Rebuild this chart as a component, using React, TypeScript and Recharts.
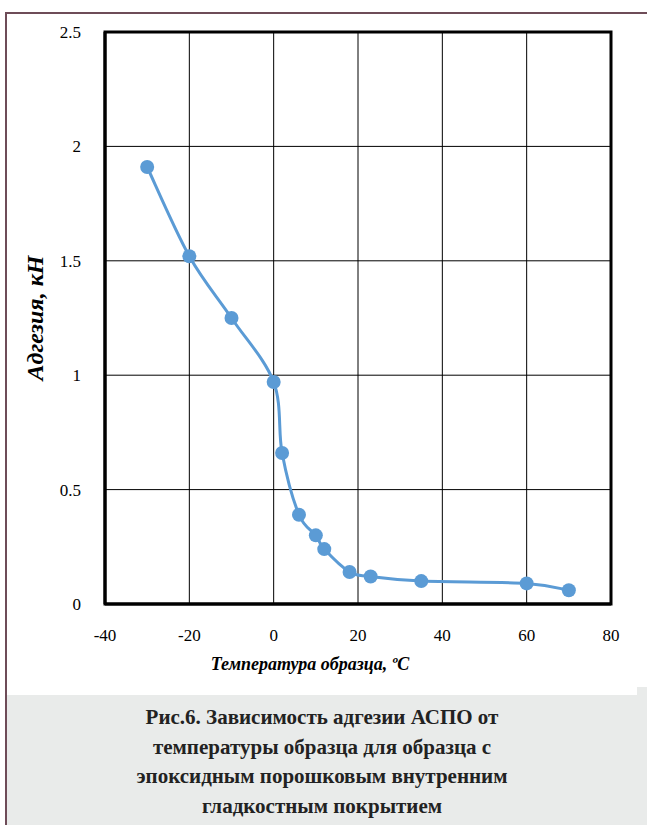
import React from 'react';
import { LineChart, Line, XAxis, YAxis, CartesianGrid, ReferenceArea } from 'recharts';

const temperatures = [-30, -20, -10, 0, 2, 6, 10, 12, 18, 23, 35, 60, 70];
const adhesion = [1.91, 1.52, 1.25, 0.97, 0.66, 0.39, 0.3, 0.24, 0.14, 0.12, 0.1, 0.09, 0.06];
const xTicks = [-40, -20, 0, 20, 40, 60, 80];
const yTicks = [0, 0.5, 1, 1.5, 2, 2.5];
const xTitle = 'Температура образца, ºС';
const yTitle = 'Адгезия, кН';
const captionLines = [
  'Рис.6. Зависимость адгезии АСПО от',
  'температуры образца для образца с',
  'эпоксидным порошковым внутренним',
  'гладкостным покрытием',
];

const data = temperatures.map((t, i) => ({ t, a: adhesion[i] }));

const SERIF =
  "'Liberation Serif', 'Times New Roman', Times, Tinos, 'Noto Serif', 'DejaVu Serif', FreeSerif, 'Nimbus Roman', serif";

// Catmull-Rom style smoothing (similar to Excel's smoothed line)
function smoothCurve(context: any) {
  let pts: [number, number][] = [];
  return {
    areaStart() {},
    areaEnd() {},
    lineStart() {
      pts = [];
    },
    point(x: number, y: number) {
      pts.push([+x, +y]);
    },
    lineEnd() {
      const n = pts.length;
      if (!n) return;
      context.moveTo(pts[0][0], pts[0][1]);
      for (let i = 0; i < n - 1; i++) {
        const p0 = pts[i - 1] || pts[i];
        const p1 = pts[i];
        const p2 = pts[i + 1];
        const p3 = pts[i + 2] || p2;
        const c1x = p1[0] + (p2[0] - p0[0]) / 6;
        const c1y = p1[1] + (p2[1] - p0[1]) / 6;
        const c2x = p2[0] - (p3[0] - p1[0]) / 6;
        const c2y = p2[1] - (p3[1] - p1[1]) / 6;
        context.bezierCurveTo(c1x, c1y, c2x, c2y, p2[0], p2[1]);
      }
    },
  };
}

const tickStyle = { fontFamily: SERIF, fontSize: 17, fill: '#000' };

export default function App() {
  return (
    <div style={{ position: 'absolute', left: 0, top: 0, width: 647, height: 825, background: '#fff', overflow: 'hidden', fontFamily: SERIF }}>
      <div style={{ position: 'absolute', left: 5, top: 12, width: 642, height: 2, background: '#6e4c58' }} />
      <div style={{ position: 'absolute', left: 5, top: 12, width: 2, height: 813, background: '#6e4c58' }} />
      <div style={{ position: 'absolute', left: 0, top: 0 }}>
        <LineChart width={647} height={695} data={data} margin={{ top: 32, right: 36, bottom: 31, left: 45 }}>
          <CartesianGrid stroke="#000" strokeWidth={1} />
          <XAxis
            dataKey="t"
            type="number"
            domain={[-40, 80]}
            ticks={xTicks}
            height={60}
            tickLine={false}
            tickSize={0}
            tickMargin={25}
            axisLine={{ stroke: '#000', strokeWidth: 3 }}
            tick={tickStyle}
            interval={0}
          />
          <YAxis
            dataKey="a"
            type="number"
            domain={[0, 2.5]}
            ticks={yTicks}
            width={60}
            tickLine={false}
            tickSize={0}
            tickMargin={24}
            axisLine={{ stroke: '#000', strokeWidth: 3 }}
            tick={tickStyle}
            interval={0}
          />
          <ReferenceArea x1={-40} x2={80} y1={0} y2={2.5} fill="none" fillOpacity={0} stroke="#000" strokeWidth={3} ifOverflow="visible" />
          <Line
            dataKey="a"
            type={smoothCurve as any}
            stroke="#5b9bd5"
            strokeWidth={3}
            dot={{ r: 7, fill: '#5b9bd5', stroke: 'none' }}
            activeDot={false}
            isAnimationActive={false}
          />
        </LineChart>
      </div>
      <div
        style={{
          position: 'absolute',
          left: 35,
          top: 318,
          transform: 'translate(-50%, -50%) rotate(-90deg)',
          whiteSpace: 'nowrap',
          fontFamily: SERIF,
          fontStyle: 'italic',
          fontWeight: 'bold',
          fontSize: 24,
          color: '#000',
        }}
      >
        {yTitle}
      </div>
      <div
        style={{
          position: 'absolute',
          left: 310,
          top: 664,
          transform: 'translate(-50%, -50%)',
          whiteSpace: 'nowrap',
          fontFamily: SERIF,
          fontStyle: 'italic',
          fontWeight: 'bold',
          fontSize: 18,
          color: '#000',
        }}
      >
        {xTitle}
      </div>
      <div style={{ position: 'absolute', left: 637, top: 687, width: 10, height: 138, background: '#e9ebea' }} />
      <div
        style={{
          position: 'absolute',
          left: 7,
          top: 695,
          width: 630,
          height: 130,
          background: '#e9ebea',
          textAlign: 'center',
          fontFamily: SERIF,
          fontWeight: 'bold',
          fontSize: 21,
          lineHeight: '29.5px',
          color: '#222',
          paddingTop: 8,
          boxSizing: 'border-box',
        }}
      >
        {captionLines.map((l, i) => (
          <div key={i}>{l}</div>
        ))}
      </div>
    </div>
  );
}
